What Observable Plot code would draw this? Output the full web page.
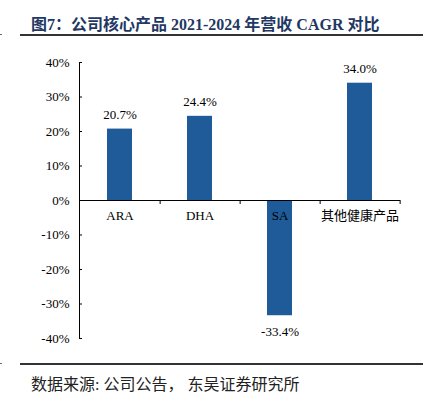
<!DOCTYPE html>
<html>
<head>
<meta charset="utf-8">
<script src="https://cdn.jsdelivr.net/npm/d3@7"></script>
<script src="https://cdn.jsdelivr.net/npm/@observablehq/plot@0.6"></script>
<style>
  html, body { margin: 0; padding: 0; background: #fff; }
  #wrap { position: relative; width: 432px; height: 394px; overflow: hidden; background: #fff; }
  #title { position: absolute; left: 31px; top: 11px; font-family: "Liberation Serif", "Noto Sans CJK SC", serif; font-weight: bold; font-size: 16px; color: #1f3864; white-space: nowrap; }
  .hline { position: absolute; left: 20px; width: 403px; height: 0; border-top: 2px solid #333; }
  .tick { position: absolute; left: 0; width: 2px; height: 0; border-top: 1px solid #666; }
  #caption { position: absolute; left: 31px; top: 371px; font-family: "Liberation Serif", "Noto Sans CJK SC", serif; font-size: 16px; color: #222; white-space: nowrap; }
  #chart { position: absolute; left: 0; top: 0; }
</style>
</head>
<body>
<div id="wrap">
  <div id="chart"></div>
  <div id="title">图7：公司核心产品 2021-2024 年营收 CAGR 对比</div>
  <div class="hline" style="top:34px"></div>
  <div class="tick" style="top:34px"></div>
  <div class="hline" style="top:363px"></div>
  <div class="tick" style="top:363px"></div>
  <div id="caption">数据来源: 公司公告，<span style="margin-left:4px">东吴证券研究所</span></div>
</div>
<script>
const categories = ["ARA", "DHA", "SA", "其他健康产品"];
const values = [0.207, 0.244, -0.334, 0.340];
const valueLabels = ["20.7%", "24.4%", "-33.4%", "34.0%"];
const yTicks = [-0.4, -0.3, -0.2, -0.1, 0, 0.1, 0.2, 0.3, 0.4];
const yTickLabels = ["-40%", "-30%", "-20%", "-10%", "0%", "10%", "20%", "30%", "40%"];

const data = categories.map((c, i) => ({cat: c, value: values[i], label: valueLabels[i]}));

const W = 432, H = 394, mL = 79, mR = 32, mT = 62, mB = 56;
const step = (W - mL - mR) / categories.length;
const innerW = W - mL - mR;

const chart = Plot.plot({
  width: W,
  height: H,
  marginLeft: mL,
  marginRight: mR,
  marginTop: mT,
  marginBottom: mB,
  style: {fontFamily: "'Liberation Serif', 'Noto Sans CJK SC', serif", fontSize: "13px", color: "#000", background: "transparent"},
  x: {domain: categories, paddingInner: 0.69, paddingOuter: 0.345, axis: null},
  y: {domain: [-0.4, 0.4], axis: null},
  marks: [
    Plot.barY(data, {x: "cat", y: "value", fill: "#1f5b99"}),
    Plot.ruleY([0], {stroke: "#000", strokeWidth: 1}),
    Plot.ruleX(categories, {x: d => d, y1: 0, y2: 0, insetBottom: -4, dx: step / 2, stroke: "#000"}),
    Plot.frame({anchor: "left", stroke: "#000"}),
    Plot.ruleY(yTicks, {y: d => d, insetRight: innerW - 3, stroke: "#000"}),
    Plot.axisY({ticks: yTicks, label: null, tickSize: 0, tickPadding: 10, tickFormat: d => yTickLabels[yTicks.indexOf(d)], fill: "#000", fontSize: 13}),
    Plot.text(data, {x: "cat", y: 0, text: "cat", dy: 15, fill: "#000", fontSize: 13}),
    Plot.text(data.filter(d => d.value >= 0), {x: "cat", y: "value", text: "label", dy: -14, fill: "#000", fontSize: 13}),
    Plot.text(data.filter(d => d.value < 0), {x: "cat", y: "value", text: "label", dy: 16, fill: "#000", fontSize: 13})
  ]
});
document.getElementById("chart").appendChild(chart);
</script>
</body>
</html>
